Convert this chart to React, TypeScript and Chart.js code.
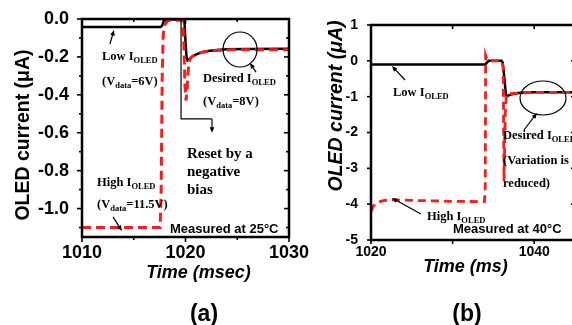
import React, { useEffect, useRef } from "react";
import { Chart, registerables } from "chart.js";

Chart.register(...registerables);

// ---------------- Panel (a): measured at 25°C ----------------
const aBlackTime = [1010, 1017.6, 1017.75, 1017.9, 1018.2, 1019.8, 1019.9, 1020.0, 1020.1, 1020.2, 1020.35, 1020.6, 1021.0, 1021.5, 1022.0, 1023.0, 1024.0, 1026.0, 1030.0];
const aBlackCurrent = [-0.042, -0.042, -0.035, -0.01, -0.003, -0.003, -0.02, -0.12, -0.2, -0.218, -0.212, -0.2, -0.188, -0.177, -0.17, -0.163, -0.16, -0.158, -0.157];
const aRedTime = [1010, 1017.55, 1017.65, 1017.75, 1017.85, 1018.0, 1018.3, 1019.65, 1019.75, 1019.85, 1019.95, 1020.05, 1020.15, 1020.25, 1020.35, 1020.5, 1020.8, 1021.3, 1022.0, 1023.0, 1024.5, 1030.0];
const aRedCurrent = [-1.1, -1.1, -0.9, -0.3, -0.08, -0.03, -0.008, -0.005, -0.03, -0.15, -0.35, -0.43, -0.38, -0.28, -0.225, -0.205, -0.192, -0.18, -0.172, -0.166, -0.162, -0.162];
const aXTicks = [1010, 1020, 1030];
const aXMinor = [1015, 1025];
const aYTicks = [0, -0.2, -0.4, -0.6, -0.8, -1.0];
const aYMinor = [-0.1, -0.3, -0.5, -0.7, -0.9, -1.1];

// ---------------- Panel (b): measured at 40°C ----------------
const bBlackTime = [1020, 1034.0, 1034.2, 1034.4, 1036.0, 1036.15, 1036.35, 1036.55, 1036.8, 1037.3, 1038.0, 1040.0, 1045.0];
const bBlackCurrent = [-0.1, -0.1, -0.05, 0.0, 0.0, -0.05, -0.5, -1.0, -0.97, -0.93, -0.9, -0.88, -0.88];
const bRedTime = [1020, 1020.3, 1020.8, 1021.5, 1022.5, 1026.0, 1030.0, 1033.9, 1034.0, 1034.05, 1034.2, 1034.5, 1036.0, 1036.2, 1036.3, 1036.45, 1036.6, 1037.0, 1038.0, 1040.0, 1045.0];
const bRedCurrent = [-4.2, -4.05, -3.95, -3.9, -3.88, -3.9, -3.92, -3.93, -3.5, 0.15, 0.05, 0.0, 0.0, -0.2, -3.35, -1.5, -0.95, -0.92, -0.9, -0.88, -0.88];
const bXTicks = [1020, 1040];
const bXMinor = [1030];
const bYTicks = [1, 0, -1, -2, -3, -4, -5];
const bYMinor: number[] = [];

const SANS = "'Liberation Sans', Arial, sans-serif";
const SERIF = "'Liberation Serif', 'Times New Roman', serif";

type Pt = { x: number; y: number };
const zip = (xs: number[], ys: number[]): Pt[] => xs.map((x, i) => ({ x, y: ys[i] }));

type Part = [string, "n" | "sub"];

function drawParts(ctx: CanvasRenderingContext2D, x: number, y: number, parts: Part[], size: number, family: string, weight: string) {
  let cx = x;
  ctx.textAlign = "left";
  ctx.textBaseline = "middle";
  ctx.fillStyle = "#000";
  for (const [t, kind] of parts) {
    const s = kind === "sub" ? size * 0.68 : size;
    ctx.font = `${weight} ${s}px ${family}`;
    const dy = kind === "sub" ? size * 0.32 : 0;
    ctx.fillText(t, cx, y + dy);
    cx += ctx.measureText(t).width;
  }
}

function arrow(ctx: CanvasRenderingContext2D, x1: number, y1: number, x2: number, y2: number, head = 6, lw = 1.2) {
  const ang = Math.atan2(y2 - y1, x2 - x1);
  ctx.save();
  ctx.strokeStyle = "#000";
  ctx.fillStyle = "#000";
  ctx.lineWidth = lw;
  ctx.beginPath();
  ctx.moveTo(x1, y1);
  ctx.lineTo(x2 - Math.cos(ang) * head * 0.6, y2 - Math.sin(ang) * head * 0.6);
  ctx.stroke();
  ctx.beginPath();
  ctx.moveTo(x2, y2);
  ctx.lineTo(x2 - head * Math.cos(ang - 0.4), y2 - head * Math.sin(ang - 0.4));
  ctx.lineTo(x2 - head * Math.cos(ang + 0.4), y2 - head * Math.sin(ang + 0.4));
  ctx.closePath();
  ctx.fill();
  ctx.restore();
}

function framePlugin(o: { xMajor: number[]; xMinor: number[]; yMajor: number[]; yMinor: number[]; lw: number; major: number; minor: number }) {
  return {
    id: "frameTicks",
    afterDatasetsDraw(chart: any) {
      const { ctx, chartArea: a, scales } = chart;
      const xs = scales.x;
      const ys = scales.y;
      ctx.save();
      ctx.strokeStyle = "#000";
      ctx.lineCap = "butt";
      const seg = (x1: number, y1: number, x2: number, y2: number) => {
        ctx.beginPath();
        ctx.moveTo(x1, y1);
        ctx.lineTo(x2, y2);
        ctx.stroke();
      };
      ctx.lineWidth = 1.6;
      const xt = (vals: number[], len: number) => {
        for (const v of vals) {
          const p = xs.getPixelForValue(v);
          seg(p, a.bottom, p, a.bottom + len);
          seg(p, a.top, p, a.top + len);
        }
      };
      const yt = (vals: number[], len: number) => {
        for (const v of vals) {
          const p = ys.getPixelForValue(v);
          seg(a.left, p, a.left - len, p);
          seg(a.right, p, a.right - len, p);
        }
      };
      xt(o.xMajor, o.major);
      xt(o.xMinor, o.minor);
      yt(o.yMajor, o.major);
      yt(o.yMinor, o.minor);
      ctx.lineWidth = o.lw;
      ctx.strokeRect(a.left, a.top, a.right - a.left, a.bottom - a.top);
      ctx.restore();
    },
  };
}

function baseConfig(p: {
  red: Pt[]; black: Pt[]; xMin: number; xMax: number; yMin: number; yMax: number;
  xTicks: number[]; yTicks: number[]; tickSize: number; yFmt: (v: number) => string;
  padding: any; yWidth: number; xHeight: number; xPad: number; yPad: number;
  redW: number; blackW: number; dash: number[]; plugins: any[];
}): any {
  return {
    type: "line",
    data: {
      datasets: [
        { data: p.red, borderColor: "#ff1a1a", borderWidth: p.redW, borderDash: p.dash, pointRadius: 0, tension: 0, fill: false },
        { data: p.black, borderColor: "#000", borderWidth: p.blackW, pointRadius: 0, tension: 0, fill: false },
      ],
    },
    options: {
      animation: false,
      responsive: false,
      devicePixelRatio: 1,
      layout: { padding: p.padding },
      plugins: { legend: { display: false }, tooltip: { enabled: false } },
      scales: {
        x: {
          type: "linear",
          min: p.xMin,
          max: p.xMax,
          grid: { display: false },
          border: { display: false },
          afterBuildTicks: (s: any) => { s.ticks = p.xTicks.map((v) => ({ value: v })); },
          afterFit: (s: any) => { s.height = p.xHeight; },
          ticks: { color: "#000", font: { family: SANS, size: p.tickSize, weight: "bold" }, padding: p.xPad, maxRotation: 0, autoSkip: false, callback: (v: any) => String(v) },
        },
        y: {
          type: "linear",
          min: p.yMin,
          max: p.yMax,
          grid: { display: false },
          border: { display: false },
          afterBuildTicks: (s: any) => { s.ticks = p.yTicks.map((v) => ({ value: v })); },
          afterFit: (s: any) => { s.width = p.yWidth; },
          ticks: { color: "#000", font: { family: SANS, size: p.tickSize, weight: "bold" }, padding: p.yPad, autoSkip: false, callback: (v: any) => p.yFmt(Number(v)) },
        },
      },
    },
    plugins: p.plugins,
  };
}

const annotA = {
  id: "annotA",
  afterDraw(chart: any) {
    const { ctx, scales } = chart;
    const X = (v: number) => scales.x.getPixelForValue(v);
    const Y = (v: number) => scales.y.getPixelForValue(v);
    ctx.save();
    const fs = 12.5;
    drawParts(ctx, X(1011.93), Y(-0.2), [["Low I", "n"], ["OLED", "sub"]], fs, SERIF, "bold");
    drawParts(ctx, X(1011.93), Y(-0.332), [["(V", "n"], ["data", "sub"], ["=6V)", "n"]], fs, SERIF, "bold");
    arrow(ctx, X(1012.7), Y(-0.132), X(1013.09), Y(-0.058));
    drawParts(ctx, X(1021.69), Y(-0.316), [["Desired I", "n"], ["OLED", "sub"]], fs, SERIF, "bold");
    drawParts(ctx, X(1021.69), Y(-0.438), [["(V", "n"], ["data", "sub"], ["=8V)", "n"]], fs, SERIF, "bold");
    ctx.strokeStyle = "#000";
    ctx.lineWidth = 1.2;
    ctx.beginPath();
    ctx.ellipse(X(1025.27), Y(-0.161), 17, 17.5, 0, 0, Math.PI * 2);
    ctx.stroke();
    arrow(ctx, X(1026.81), Y(-0.28), X(1026.23), Y(-0.232));
    ctx.beginPath();
    ctx.moveTo(X(1019.57), Y(-0.005));
    ctx.lineTo(X(1019.57), Y(-0.527));
    ctx.lineTo(X(1022.56), Y(-0.527));
    ctx.stroke();
    arrow(ctx, X(1022.56), Y(-0.527), X(1022.56), Y(-0.6));
    drawParts(ctx, X(1020.14), Y(-0.712), [["Reset by a", "n"]], 15, SERIF, "bold");
    drawParts(ctx, X(1020.14), Y(-0.807), [["negative", "n"]], 15, SERIF, "bold");
    drawParts(ctx, X(1020.14), Y(-0.902), [["bias", "n"]], 15, SERIF, "bold");
    drawParts(ctx, X(1011.45), Y(-0.865), [["High I", "n"], ["OLED", "sub"]], fs, SERIF, "bold");
    drawParts(ctx, X(1011.45), Y(-0.981), [["(V", "n"], ["data", "sub"], ["=11.5V)", "n"]], fs, SERIF, "bold");
    arrow(ctx, X(1013.0), Y(-1.044), X(1013.86), Y(-1.118));
    drawParts(ctx, X(1018.5), Y(-1.108), [["Measured at 25°C", "n"]], 13, SANS, "bold");
    // axis titles and panel label
    ctx.fillStyle = "#000";
    ctx.font = `bold 19.5px ${SANS}`;
    ctx.textAlign = "center";
    ctx.textBaseline = "middle";
    ctx.save();
    ctx.translate(24, 135);
    ctx.rotate(-Math.PI / 2);
    ctx.fillText("OLED current (μA)", 0, 0);
    ctx.restore();
    ctx.font = `italic bold 18px ${SANS}`;
    ctx.fillText("Time (msec)", 198.5, 273);
    ctx.font = `bold 23px ${SANS}`;
    ctx.fillText("(a)", 204, 315);
    ctx.restore();
  },
};

const annotB = {
  id: "annotB",
  afterDraw(chart: any) {
    const { ctx, scales } = chart;
    const X = (v: number) => scales.x.getPixelForValue(v);
    const Y = (v: number) => scales.y.getPixelForValue(v);
    ctx.save();
    const fs = 12.5;
    drawParts(ctx, X(1022.7), Y(-0.898), [["Low I", "n"], ["OLED", "sub"]], fs, SERIF, "bold");
    arrow(ctx, X(1024.17), Y(-0.535), X(1022.57), Y(-0.144));
    ctx.strokeStyle = "#000";
    ctx.lineWidth = 1.2;
    ctx.beginPath();
    ctx.ellipse(X(1041.08), Y(-1.037), 23, 17, 0, 0, Math.PI * 2);
    ctx.stroke();
    arrow(ctx, X(1038.75), Y(-1.93), X(1040.34), Y(-1.456));
    drawParts(ctx, X(1036.18), Y(-2.098), [["Desired I", "n"], ["OLED", "sub"]], fs, SERIF, "bold");
    drawParts(ctx, X(1036.18), Y(-2.796), [["(Variation is", "n"]], fs, SERIF, "bold");
    drawParts(ctx, X(1036.18), Y(-3.437), [["reduced)", "n"]], fs, SERIF, "bold");
    drawParts(ctx, X(1026.86), Y(-4.359), [["High I", "n"], ["OLED", "sub"]], fs, SERIF, "bold");
    arrow(ctx, X(1026.13), Y(-4.275), X(1022.57), Y(-3.828));
    drawParts(ctx, X(1030.05), Y(-4.693), [["Measured at 40°C", "n"]], 13, SANS, "bold");
    ctx.fillStyle = "#000";
    ctx.textAlign = "center";
    ctx.textBaseline = "middle";
    ctx.font = `italic bold 19.5px ${SANS}`;
    ctx.save();
    ctx.translate(47, 106);
    ctx.rotate(-Math.PI / 2);
    ctx.fillText("OLED current (μA)", 0, 0);
    ctx.restore();
    ctx.font = `italic bold 18px ${SANS}`;
    ctx.fillText("Time (ms)", 175.5, 267);
    ctx.font = `bold 23px ${SANS}`;
    ctx.fillText("(b)", 177, 315);
    ctx.restore();
  },
};

export default function App() {
  const refA = useRef<HTMLCanvasElement>(null);
  const refB = useRef<HTMLCanvasElement>(null);

  useEffect(() => {
    const cfgA = baseConfig({
      red: zip(aRedTime, aRedCurrent),
      black: zip(aBlackTime, aBlackCurrent),
      xMin: 1010, xMax: 1030, yMin: -1.15, yMax: 0,
      xTicks: aXTicks, yTicks: aYTicks, tickSize: 18,
      yFmt: (v) => v.toFixed(1),
      padding: { left: 0, top: 19, right: 41, bottom: 0 },
      yWidth: 82, xHeight: 88, xPad: -3, yPad: 5,
      redW: 3, blackW: 2.5, dash: [9, 5],
      plugins: [framePlugin({ xMajor: aXTicks, xMinor: aXMinor, yMajor: aYTicks, yMinor: aYMinor, lw: 2.5, major: 5, minor: 3 }), annotA],
    });
    const cfgB = baseConfig({
      red: zip(bRedTime, bRedCurrent),
      black: zip(bBlackTime, bBlackCurrent),
      xMin: 1020, xMax: 1045, yMin: -5, yMax: 1,
      xTicks: bXTicks, yTicks: bYTicks, tickSize: 14,
      yFmt: (v) => String(Math.round(v)),
      padding: { left: 0, top: 25, right: 15, bottom: 0 },
      yWidth: 81, xHeight: 85, xPad: -4, yPad: 5,
      redW: 2.8, blackW: 2.5, dash: [8, 5],
      plugins: [framePlugin({ xMajor: bXTicks, xMinor: bXMinor, yMajor: bYTicks, yMinor: bYMinor, lw: 2.5, major: 4, minor: 4 }), annotB],
    });
    const ca = new Chart(refA.current as HTMLCanvasElement, cfgA);
    const cb = new Chart(refB.current as HTMLCanvasElement, cfgB);
    return () => {
      ca.destroy();
      cb.destroy();
    };
  }, []);

  return (
    <div style={{ position: "fixed", left: 0, top: 0, width: 572, height: 325, overflow: "hidden", background: "#fff" }}>
      <canvas ref={refA} width={330} height={325} style={{ position: "absolute", left: 0, top: 0, width: 330, height: 325 }} />
      <canvas ref={refB} width={300} height={325} style={{ position: "absolute", left: 290, top: 0, width: 300, height: 325 }} />
    </div>
  );
}
